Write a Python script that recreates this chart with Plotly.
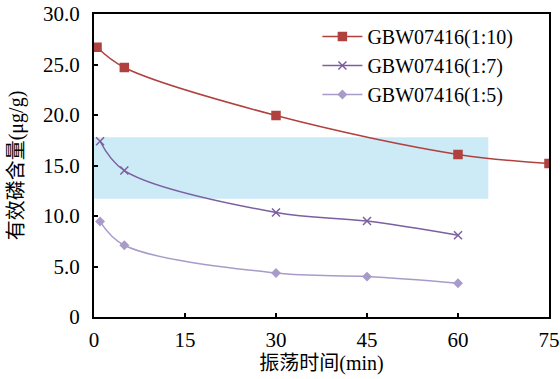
import plotly.graph_objects as go

# Data
names = ["GBW07416(1:10)", "GBW07416(1:7)", "GBW07416(1:5)"]
x_110 = [0.5, 5, 30, 60, 75]
y_110 = [26.7, 24.7, 19.95, 16.1, 15.2]
x_17 = [1, 5, 30, 45, 60]
y_17 = [17.4, 14.5, 10.35, 9.5, 8.1]
x_15 = [1, 5, 30, 45, 60]
y_15 = [9.45, 7.1, 4.35, 4.0, 3.35]

band_x = [0, 65]
band_y = [11.7, 17.8]

x_ticks = [0, 15, 30, 45, 60, 75]
y_ticks = [0, 5, 10, 15, 20, 25, 30]
y_ticktext = ["0", "5.0", "10.0", "15.0", "20.0", "25.0", "30.0"]

colors = ["#b0413e", "#7b5fa0", "#a99bc9"]
symbols = ["square", "x-thin", "diamond"]
sizes = [8, 8, 6]

serif = "Liberation Serif, Times New Roman, Noto Sans CJK SC, serif"
FS = 21

fig = go.Figure()
for xs, ys, nm, c, s, sz in zip([x_110, x_17, x_15], [y_110, y_17, y_15], names, colors, symbols, sizes):
    fig.add_trace(go.Scatter(
        x=xs, y=ys, name=nm, mode="lines+markers",
        line=dict(color=c, width=1.5, shape="spline", smoothing=1.0),
        marker=dict(symbol=s, size=sz, color=c, line=dict(color=c, width=1.5)),
    ))

fig.add_shape(type="rect", xref="x", yref="y",
              x0=band_x[0], x1=band_x[1], y0=band_y[0], y1=band_y[1],
              fillcolor="#cdeaf7", line=dict(width=0), layer="below")

fig.update_layout(
    width=560, height=379,
    margin=dict(l=94, r=11, t=14, b=62),
    paper_bgcolor="white", plot_bgcolor="white",
    font=dict(family=serif, size=FS, color="black"),
    legend=dict(x=0.491, y=0.99, xanchor="left", yanchor="top",
                bgcolor="rgba(0,0,0,0)", font=dict(size=20, family=serif),
                tracegroupgap=0, itemwidth=40),
    showlegend=True,
)
fig.update_xaxes(range=[0, 75], tickvals=x_ticks, showline=True, linecolor="black",
                 linewidth=2, mirror=True, ticks="inside", ticklen=4, tickcolor="black",
                 tickwidth=1.5, showgrid=False, zeroline=False, automargin=False,
                 ticklabelstandoff=3, ticklabeloverflow="allow",
                 title=dict(text="振荡时间(min)", font=dict(size=20, family=serif), standoff=2),
                 tickfont=dict(size=FS, family=serif))
fig.update_yaxes(range=[0, 30], tickvals=y_ticks, ticktext=y_ticktext, showline=True,
                 linecolor="black", linewidth=2, mirror=True, ticks="inside", ticklen=4,
                 tickcolor="black", tickwidth=1.5, showgrid=False, zeroline=False,
                 automargin=False, ticklabelstandoff=8, ticklabeloverflow="allow",
                 title=dict(text="有效磷含量(μg/g)", font=dict(size=20, family=serif), standoff=14),
                 tickfont=dict(size=FS, family=serif))

fig.write_html("out.html", config={"displayModeBar": False},
               post_script="document.body.style.margin='0';")
